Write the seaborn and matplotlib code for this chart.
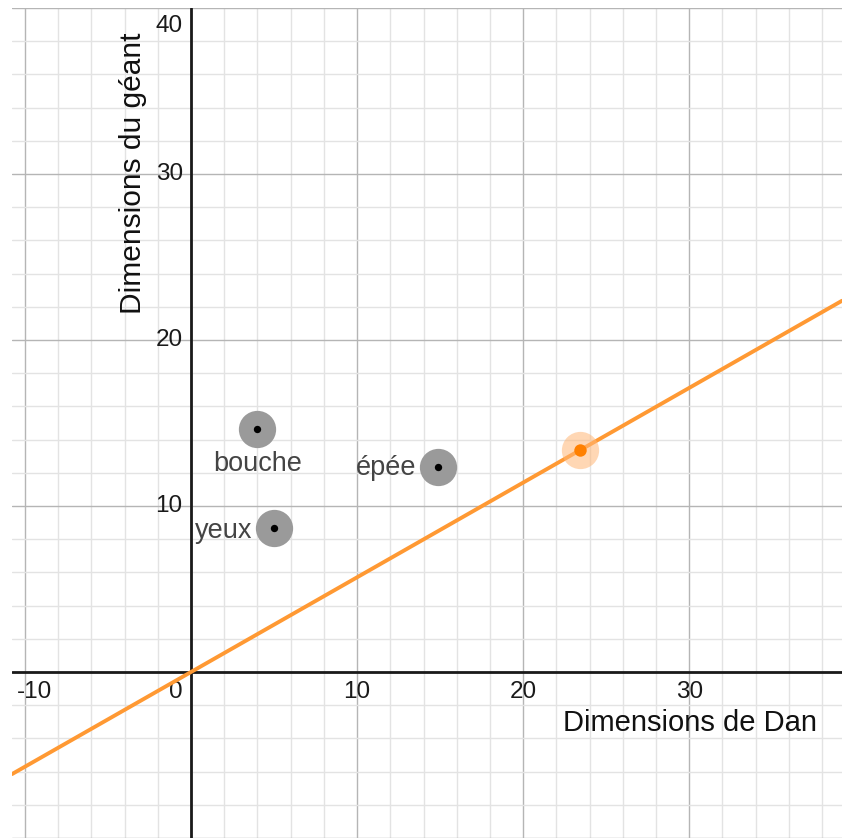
import numpy as np
import pandas as pd
import matplotlib
matplotlib.use("Agg")
import matplotlib.pyplot as plt
import seaborn as sns

# Points (Dan -> géant)
noms = ["bouche", "yeux", "épée"]
dan = [3.95, 4.98, 14.9]
geant = [14.63, 8.67, 12.37]

# proportional line through the origin and its highlighted point
pente = 0.5705
point_x = [23.4]
point_y = [13.35]

x_ticks = [-10, 10, 20, 30]
y_ticks = [10, 20, 30, 40]

sns.set_theme(style="white")
plt.rcParams['font.family'] = ['Liberation Sans', 'DejaVu Sans']

df = pd.DataFrame({"nom": noms, "dan": dan, "geant": geant})
df_pt = pd.DataFrame({"x": point_x, "y": point_y})

fig = plt.figure(figsize=(8.42, 8.38), dpi=100)
ax = fig.add_axes([12 / 842, 0, 830 / 842, 830 / 838])
ax.set_xlim(-10.78, 39.2)
ax.set_ylim(-10.0, 40.0)

# grid: light every 2, darker every 10
ax.set_xticks(np.arange(-10, 40, 10))
ax.set_yticks(np.arange(-10, 41, 10))
ax.set_xticks(np.arange(-10, 40, 2), minor=True)
ax.set_yticks(np.arange(-10, 41, 2), minor=True)
ax.grid(which='minor', color='#e3e3e3', lw=1)
ax.grid(which='major', color='#b5b5b5', lw=1)
ax.tick_params(which='both', length=0, labelbottom=False, labelleft=False)
for s in ax.spines.values():
    s.set_visible(False)

# axes
ax.axhline(0, color='#1a1a1a', lw=2, zorder=2)
ax.axvline(0, color='#1a1a1a', lw=2, zorder=2)

# tick labels
tk = dict(fontsize=17.5, color='#1a1a1a', va='center')
for t in x_ticks:
    xx = -9.4 if t == -10 else t
    ax.text(xx, -1.2, str(t), ha='center', **tk)
ax.text(-0.9, -1.2, "0", ha='center', **tk)
for t in y_ticks:
    yy = 38.9 if t == 40 else t
    ax.text(-0.5, yy, str(t), ha='right', **tk)

# axis titles
ax.text(37.7, -3.05, "Dimensions de Dan", ha='right', va='center', fontsize=21, color='#111111')
ax.text(-3.5, 38.55, "Dimensions du géant", ha='center', va='top', rotation=90,
        fontsize=21.5, color='#111111')

# proportional line
ax.axline((0, 0), slope=pente, color='#ff9933', lw=2.8, zorder=3)

# highlighted point on the line
sns.scatterplot(data=df_pt, x="x", y="y", s=720, color='#ffb777', alpha=0.55,
                linewidth=0, ax=ax, zorder=4)
sns.scatterplot(data=df_pt, x="x", y="y", s=80, color='#ff8000',
                linewidth=0, ax=ax, zorder=5)

# measured points
sns.scatterplot(data=df, x="dan", y="geant", s=720, color='#9a9a9a',
                linewidth=0, ax=ax, zorder=4)
sns.scatterplot(data=df, x="dan", y="geant", s=28, color='black',
                linewidth=0, ax=ax, zorder=5)

# point labels
lbl = dict(fontsize=19.5, color='#444444', va='center')
ax.text(dan[0] + 0.05, geant[0] - 2.1, noms[0], ha='center', **lbl)
ax.text(dan[1] - 1.3, geant[1] - 0.15, noms[1], ha='right', **lbl)
ax.text(dan[2] - 1.3, geant[2] - 0.1, noms[2], ha='right', **lbl)

ax.set_xlabel("")
ax.set_ylabel("")
fig.savefig("out.png", dpi=100, facecolor='white')
